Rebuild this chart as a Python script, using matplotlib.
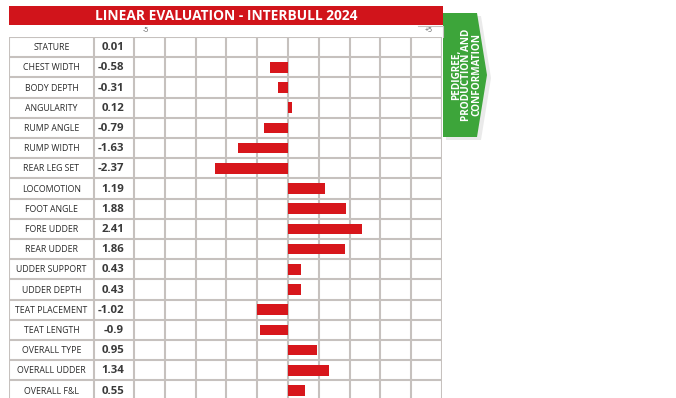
import matplotlib
matplotlib.use("Agg")
import matplotlib.pyplot as plt
from matplotlib.patches import Polygon

plt.rcParams['font.family'] = ['Open Sans', 'DejaVu Sans']

traits = ["STATURE", "CHEST WIDTH", "BODY DEPTH", "ANGULARITY", "RUMP ANGLE",
          "RUMP WIDTH", "REAR LEG SET", "LOCOMOTION", "FOOT ANGLE", "FORE UDDER",
          "REAR UDDER", "UDDER SUPPORT", "UDDER DEPTH", "TEAT PLACEMENT",
          "TEAT LENGTH", "OVERALL TYPE", "OVERALL UDDER", "OVERALL F&L"]
values = [0.01, -0.58, -0.31, 0.12, -0.79, -1.63, -2.37, 1.19, 1.88, 2.41,
          1.86, 0.43, 0.43, -1.02, -0.9, 0.95, 1.34, 0.55]
value_labels = ["0.01", "-0.58", "-0.31", "0.12", "-0.79", "-1.63", "-2.37", "1.19",
                "1.88", "2.41", "1.86", "0.43", "0.43", "-1.02", "-0.9", "0.95",
                "1.34", "0.55"]
title = "LINEAR EVALUATION - INTERBULL 2024"
side_text = "PEDIGREE,\nPRODUCTION AND\nCONFORMATION"
scale_min, scale_max = -5, 5

W, H = 676, 398
fig = plt.figure(figsize=(W / 100, H / 100), dpi=100)

# pixel geometry
px_zero = 288.0
px_unit = 30.8
left_px = 9.0
split_px = 94.0
top_px = 37.0
row_h = 20.2
n = len(traits)
bottom_px = top_px + n * row_h

xmin = (left_px - px_zero) / px_unit
xsplit = (split_px - px_zero) / px_unit
right_px = px_zero + scale_max * px_unit

ax = fig.add_axes([left_px / W, 1 - bottom_px / H,
                   (right_px - left_px) / W, (bottom_px - top_px) / H])
ax.set_xlim(xmin, scale_max)
ax.set_ylim(n - 0.5, -0.5)
ax.axis('off')

grid_c = '#c6c1be'
lw = 1.5
for i in range(n + 1):
    ax.axhline(i - 0.5, color=grid_c, lw=lw, zorder=1)
for xv in [xmin, xsplit] + list(range(scale_min, scale_max + 1)):
    ax.axvline(xv, color=grid_c, lw=lw, zorder=1)

ax.barh(range(n), values, height=0.52, left=0, color='#d7161b', zorder=3)

label_x = (xmin + xsplit) / 2
val_x = (124 - px_zero) / px_unit
for i, (t, v) in enumerate(zip(traits, value_labels)):
    ax.text(label_x, i + 0.03, t, ha='center', va='center', fontsize=6.3,
            color='#2b2b2b')
    ax.text(val_x, i + 0.03, v, ha='right', va='center', fontsize=8.2,
            fontweight='bold', color='#3a3a3a')

# overlay axes in pixel coordinates
ov = fig.add_axes([0, 0, 1, 1])
ov.set_xlim(0, W)
ov.set_ylim(H, 0)
ov.axis('off')
ov.patch.set_alpha(0)

# title bar
ov.add_patch(Polygon([[9, 6], [443, 6], [443, 25], [9, 25]], closed=True,
                     facecolor='#d1141b', edgecolor='none'))
ov.text(226, 15.5, title, ha='center', va='center', color='white',
        fontsize=9.9, fontweight='bold')

# scale labels
ov.text(146, 31, "-5", ha='center', va='center', fontsize=5, color='#555555')
ov.text(429, 31, "+5", ha='center', va='center', fontsize=5, color='#555555')
ov.plot([418, 443, 443], [25.5, 25.5, 37], color=grid_c, lw=0.8)

# green arrow with shadow
ov.add_patch(Polygon([[446, 16], [481, 16], [491, 78], [481, 140], [446, 140]],
                     closed=True, facecolor='#dddddd', edgecolor='none', alpha=0.6))
ov.add_patch(Polygon([[443, 13], [477, 13], [487, 75], [477, 137], [443, 137]],
                     closed=True, facecolor='#3da53a', edgecolor='none'))
ov.text(466.5, 75, side_text, ha='center', va='center', rotation=90, color='white',
        fontsize=7.2, fontweight='bold', linespacing=0.92, multialignment='center')

fig.savefig('out.png', dpi=100)
